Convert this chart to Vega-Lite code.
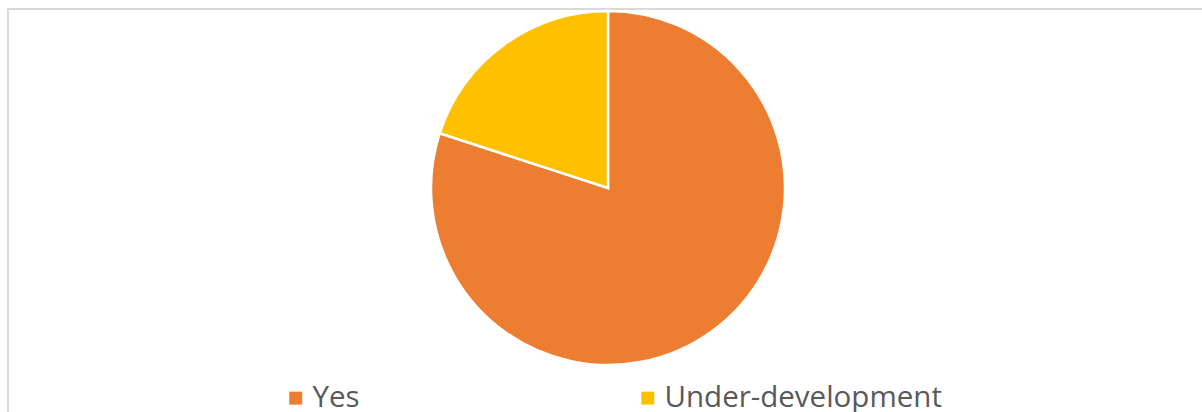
{
  "$schema": "https://vega.github.io/schema/vega-lite/v6.json",
  "width": 1200,
  "height": 410,
  "padding": {"left": 8, "top": 9, "right": 0, "bottom": 0},
  "autosize": {"type": "none"},
  "background": "white",
  "view": {"stroke": "#d9d9d9", "strokeWidth": 2},
  "config": {
    "view": {"stroke": "#d9d9d9", "strokeWidth": 2},
    "font": "Open Sans"
  },
  "data": {
    "values": [
      {"answer": "Yes", "value": 80, "rank": 1},
      {"answer": "Under-development", "value": 20, "rank": 2}
    ]
  },
  "mark": {"type": "arc", "outerRadius": 177, "stroke": "white", "strokeWidth": 2.5, "yOffset": -26},
  "encoding": {
    "theta": {"field": "value", "type": "quantitative", "stack": true},
    "order": {"field": "rank", "type": "quantitative"},
    "color": {
      "field": "answer",
      "type": "nominal",
      "scale": {"domain": ["Yes", "Under-development"], "range": ["#ED7D31", "#FFC000"]},
      "legend": {
        "title": null,
        "orient": "none",
        "direction": "horizontal",
        "legendX": 273,
        "legendY": 374,
        "padding": 0,
        "symbolType": "square",
        "symbolSize": 169,
        "symbolStrokeWidth": 0,
        "labelFont": "Open Sans",
        "labelFontSize": 29.5,
        "labelColor": "#595959",
        "labelOffset": 2,
        "labelLimit": 400,
        "columnPadding": 273
      }
    }
  }
}
